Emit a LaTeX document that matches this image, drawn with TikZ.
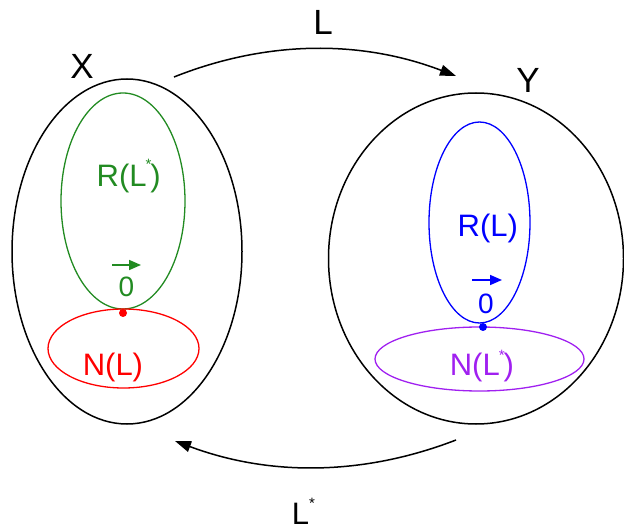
\documentclass[tikz,border=0pt]{standalone}
\usepackage{fontspec}
\setmainfont{Liberation Sans}
\usetikzlibrary{shapes.geometric,arrows.meta}
\definecolor{rgreen}{RGB}{34,139,34}
\definecolor{rpurple}{RGB}{160,32,240}
\newcommand\mystar[1][17pt]{\raisebox{#1}{\fontsize{15}{15}\selectfont *}}
\begin{document}
\begin{tikzpicture}[x=1pt,y=-1pt,
  oval/.style={ellipse,draw,inner sep=0pt,outer sep=0pt},
  biglab/.style={font=\fontsize{35}{35}\selectfont,inner sep=0pt},
  lab/.style={font=\fontsize{31}{31}\selectfont,inner sep=0pt},
  zerolab/.style={font=\fontsize{28}{28}\selectfont,inner sep=0pt,anchor=base},
  map/.style={line width=1.5pt,-{Triangle[length=16pt,width=11pt]}},
  vecarrow/.style={line width=1.6pt,-{Triangle[length=12pt,width=10pt]}},
  dot/.style={circle,fill,inner sep=0pt,minimum size=8pt}
]
\useasboundingbox (0,0) rectangle (624,529);
% big sets
\node[oval,line width=1.5pt,minimum width=230pt,minimum height=345pt] (X) at (127,251.5) {};
\node[oval,line width=1.5pt,minimum width=295pt,minimum height=331pt] (Y) at (476,258.5) {};
% subsets
\node[oval,rgreen,line width=1.3pt,minimum width=124pt,minimum height=216pt] (RLs) at (123,201) {};
\node[oval,red,line width=1.3pt,minimum width=151pt,minimum height=79pt] (NL) at (123.5,348.5) {};
\node[oval,blue,line width=1.3pt,minimum width=101pt,minimum height=201pt] (RL) at (479.5,222.5) {};
\node[oval,rpurple,line width=1.3pt,minimum width=209pt,minimum height=64pt] (NLs) at (479.5,359) {};
% zero dots
\node[dot,red] (z1) at (123,313) {};
\node[dot,blue] (z2) at (483,327) {};
% labels
\node[biglab,anchor=base] (Xl) at (82,79) {X};
\node[biglab,anchor=base] (Yl) at (528,93) {Y};
\node[biglab,anchor=base] (Ll) at (323,35) {L};
\node[lab,anchor=base west] (Lsl) at (291.7,524) {L\mystar[16pt]};
\node[lab,anchor=base west,text=rgreen] (RLst) at (96.5,187) {R(L\kern-1pt\mystar\kern-1pt)};
\node[lab,anchor=base west,text=blue] (RLt) at (457.5,237) {R(L)};
\node[lab,anchor=base west,text=red] (NLt) at (82.6,375) {N(L)};
\node[lab,anchor=base west,text=rpurple] (NLst) at (449.6,375) {N(L\kern-1pt\mystar[15pt]\kern-1pt)};
\node[zerolab,text=rgreen] (o1) at (126.5,297) {0};
\node[zerolab,text=blue] (o2) at (486,314) {0};
% vector arrows over zeros
\coordinate (v1a) at (112,265);
\coordinate (v1b) at (141,265);
\draw[vecarrow,rgreen] (v1a) -- (v1b);
\coordinate (v2a) at (472,280);
\coordinate (v2b) at (502,280);
\draw[vecarrow,blue] (v2a) -- (v2b);
% maps
\coordinate (Lstart) at (174,77);
\coordinate (Lend) at (456,76);
\draw[map] (Lstart) .. controls (267,40) and (361,39.7) .. (Lend);
\coordinate (Lsstart) at (456,440);
\coordinate (Lsend) at (175,441);
\draw[map] (Lsstart) .. controls (362.7,476) and (269.3,476.3) .. (Lsend);
\end{tikzpicture}
\end{document}
